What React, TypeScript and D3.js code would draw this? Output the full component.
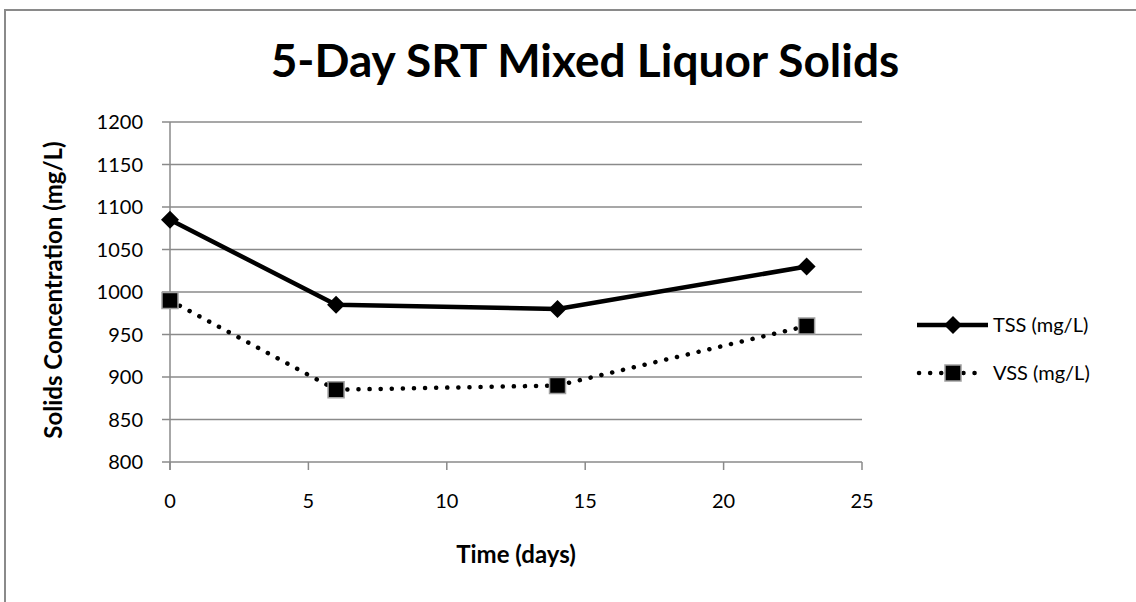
import React from "react";
import * as d3 from "d3";

const days = [0, 6, 14, 23];
const tss = [1085, 985, 980, 1030];
const vss = [990, 885, 890, 960];
const yTicks = [800, 850, 900, 950, 1000, 1050, 1100, 1150, 1200];
const xTicks = [0, 5, 10, 15, 20, 25];
const seriesNames = ["TSS (mg/L)", "VSS (mg/L)"];

const FONT = "Lato, 'Open Sans', sans-serif";

export default function App() {
  const W = 1136, H = 602;
  const x = d3.scaleLinear().domain([0, 25]).range([170, 862]);
  const y = d3.scaleLinear().domain([800, 1200]).range([462, 122]);
  const line = d3.line<number>().x((_, i) => x(days[i])).y((d) => y(d));
  const gridColor = "#8a8a8a";

  const diamond = (cx: number, cy: number, r = 8) =>
    `M${cx},${cy - r}L${cx + r},${cy}L${cx},${cy + r}L${cx - r},${cy}Z`;

  return (
    <svg width={W} height={H} style={{ position: "absolute", left: 0, top: 0 }}>
      <rect x={0} y={0} width={W} height={H} fill="#fff" />
      <rect x={5} y={10} width={1140} height={600} fill="#fff" stroke="#8a8a8a" strokeWidth={2} />
      <text x={585} y={77} textAnchor="middle" fontFamily={FONT} fontWeight={700} fontSize={46} fill="#000">
        5-Day SRT Mixed Liquor Solids
      </text>
      {/* gridlines */}
      {yTicks.map((t) => (
        <line key={t} x1={162} x2={x(25)} y1={y(t)} y2={y(t)} stroke={gridColor} strokeWidth={1.5} />
      ))}
      {/* y axis */}
      <line x1={x(0)} x2={x(0)} y1={y(1200)} y2={y(800) + 8} stroke={gridColor} strokeWidth={1.5} />
      {/* x ticks */}
      {xTicks.map((t) => (
        <line key={t} x1={x(t)} x2={x(t)} y1={y(800)} y2={y(800) + 8} stroke={gridColor} strokeWidth={1.5} />
      ))}
      {yTicks.map((t) => (
        <text key={t} x={143} y={y(t)} dy="0.36em" textAnchor="end" fontFamily={FONT} fontSize={20} fill="#000">
          {t}
        </text>
      ))}
      {xTicks.map((t) => (
        <text key={t} x={x(t)} y={508} textAnchor="middle" fontFamily={FONT} fontSize={20} fill="#000">
          {t}
        </text>
      ))}
      <text x={516} y={563} textAnchor="middle" fontFamily={FONT} fontWeight={700} fontSize={24} fill="#000">
        Time (days)
      </text>
      <text
        transform={`translate(62,${y(1000) - 2}) rotate(-90)`}
        textAnchor="middle"
        fontFamily={FONT}
        fontWeight={700}
        fontSize={24}
        fill="#000"
      >
        Solids Concentration (mg/L)
      </text>
      {/* VSS */}
      <path d={line(vss) || ""} fill="none" stroke="#000" strokeWidth={4.5} strokeDasharray="0.1 11" strokeLinecap="round" />
      {vss.map((v, i) => (
        <rect key={i} x={x(days[i]) - 8} y={y(v) - 8} width={16} height={16} fill="#000" stroke="#a0a0a0" strokeWidth={1.5} />
      ))}
      {/* TSS */}
      <path d={line(tss) || ""} fill="none" stroke="#000" strokeWidth={4.5} strokeLinejoin="round" />
      {tss.map((v, i) => (
        <path key={i} d={diamond(x(days[i]), y(v), 9)} fill="#000" />
      ))}
      {/* legend */}
      <line x1={917} x2={988} y1={325} y2={325} stroke="#000" strokeWidth={4.5} />
      <path d={diamond(953, 325, 9)} fill="#000" />
      <text x={993} y={325} dy="0.36em" fontFamily={FONT} fontSize={20} fill="#000">{seriesNames[0]}</text>
      <line x1={919} x2={980} y1={373} y2={373} stroke="#000" strokeWidth={4.5} strokeDasharray="0.1 11" strokeLinecap="round" />
      <rect x={945} y={365} width={16} height={16} fill="#000" stroke="#a0a0a0" strokeWidth={1.5} />
      <text x={993} y={373} dy="0.36em" fontFamily={FONT} fontSize={20} fill="#000">{seriesNames[1]}</text>
    </svg>
  );
}
